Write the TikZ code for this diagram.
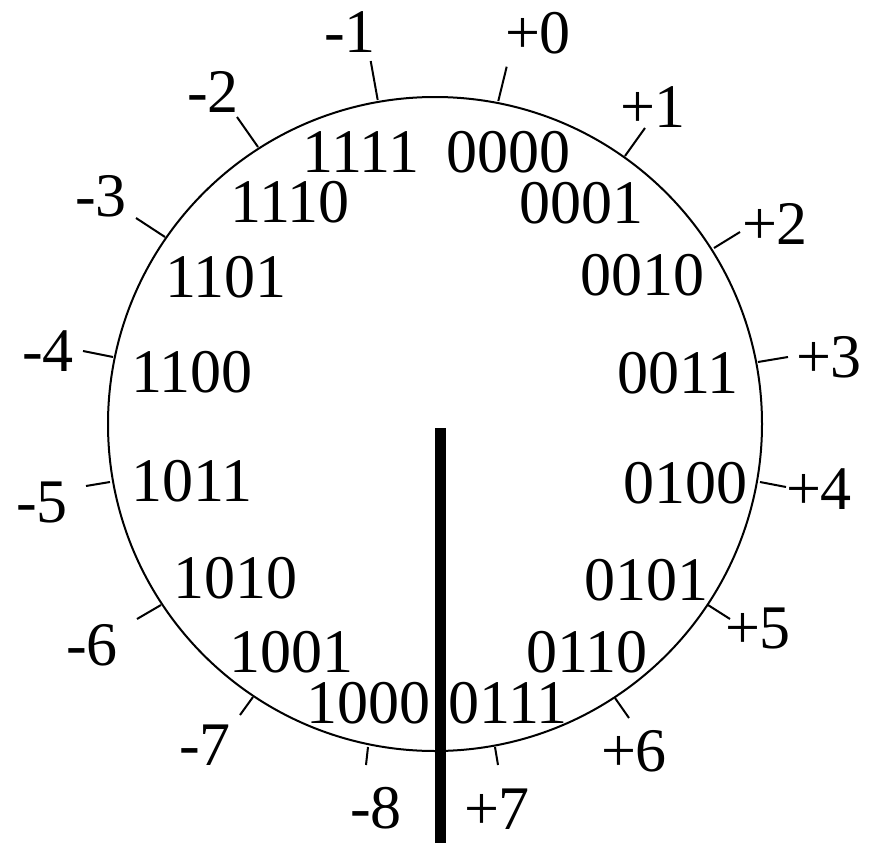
\documentclass[tikz,border=0pt]{standalone}
\usepackage{fontspec}
\setmainfont{Liberation Serif}
\begin{document}
\begin{tikzpicture}[x=1pt,y=-1pt,
  lbl/.style={inner sep=0pt,font=\fontsize{62}{62}\selectfont},
  tick/.style={line width=2pt},
  ring/.style={line width=2pt}]
\useasboundingbox (0,0) rectangle (873,843);
\coordinate (c) at (435,424);
\draw[ring] (c) circle[radius=327];
% ticks
\draw[tick] (498.3,101) -- (506.7,66.7);
\draw[tick] (625,156) -- (645,128);
\draw[tick] (714,248) -- (740,232);
\draw[tick] (758,362) -- (788,357);
\draw[tick] (760,482) -- (786,487);
\draw[tick] (708,605) -- (730,619);
\draw[tick] (615,698) -- (629,718);
\draw[tick] (495,747) -- (498,765);
\draw[tick] (368,747) -- (366,765);
\draw[tick] (253,697) -- (240,715);
\draw[tick] (161,605) -- (137,619);
\draw[tick] (110,482) -- (86,486);
\draw[tick] (113,357) -- (83,351);
\draw[tick] (165,237) -- (136,218);
\draw[tick] (258,147) -- (237,117);
\draw[tick] (377.7,100) -- (370.7,61);
% bar
\fill (435,428) rectangle (445.5,843);
% outer labels
\node[lbl] (p0) at (538,33) {+0};
\node[lbl] (p1) at (653,107) {+1};
\node[lbl] (p2) at (775,224) {+2};
\node[lbl] (p3) at (829,357) {+3};
\node[lbl] (p4) at (819,489) {+4};
\node[lbl] (p5) at (758,628) {+5};
\node[lbl] (p6) at (634,751) {+6};
\node[lbl] (p7) at (497,809) {+7};
\node[lbl] (m8) at (376,808) {-8};
\node[lbl] (m7) at (205,745) {-7};
\node[lbl] (m6) at (92,645) {-6};
\node[lbl] (m5) at (42,502) {-5};
\node[lbl] (m4) at (48,351) {-4};
\node[lbl] (m3) at (101,196) {-3};
\node[lbl] (m2) at (213,92) {-2};
\node[lbl] (m1) at (350,32) {-1};
% inner labels
\node[lbl] (b0) at (508,152) {0000};
\node[lbl] (b1) at (581,203) {0001};
\node[lbl] (b2) at (642,275) {0010};
\node[lbl] (b3) at (678,373) {0011};
\node[lbl] (b4) at (685,483) {0100};
\node[lbl] (b5) at (646,580) {0101};
\node[lbl] (b6) at (587,652) {0110};
\node[lbl] (b7) at (508,703) {0111};
\node[lbl] (b8) at (368,703) {1000};
\node[lbl] (b9) at (291,652) {1001};
\node[lbl] (b10) at (235,578) {1010};
\node[lbl] (b11) at (192,481) {1011};
\node[lbl] (b12) at (192,372) {1100};
\node[lbl] (b13) at (226,277) {1101};
\node[lbl] (b14) at (290,202) {1110};
\node[lbl] (b15) at (361,152) {1111};
\end{tikzpicture}
\end{document}
